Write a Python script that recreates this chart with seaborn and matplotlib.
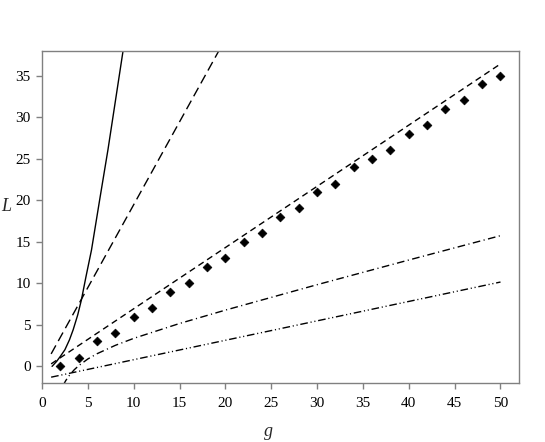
import numpy as np
import pandas as pd
import seaborn as sns
import matplotlib.pyplot as plt

# observed points (diamonds)
g_obs = [2, 4, 6, 8, 10, 12, 14, 16, 18, 20, 22, 24, 26, 28, 30,
         32, 34, 36, 38, 40, 42, 44, 46, 48, 50]
L_obs = [0, 1, 3, 4, 6, 7, 9, 10, 12, 13, 15, 16, 18, 19, 21,
         22, 24, 25, 26, 28, 29, 31, 32, 34, 35]

# solid curve
g_solid = [1.1, 1.6, 2.0, 2.5, 3.0, 3.4, 3.9, 4.3, 4.8, 5.4, 6.3, 7.2, 8.86]
L_solid = [0.0, 0.6, 1.2, 2.0, 3.2, 4.4, 6.2, 8.0, 10.8, 14.0, 20.1, 26.1, 38.1]

# long dashed line
g_long = [1.0, 19.3]
L_long = [1.5, 38.0]

# short dashed line (close to the points)
g_short = [1.0, 50.0]
L_short = [0.3, 36.4]

# dash-dot curve (middle)
g_dd = [2.3, 2.6, 3.0, 3.5, 4.0, 5.0, 6.0, 8.0, 10.0, 15.0, 20.0, 30.0, 40.0, 50.0]
L_dd = [-2.3, -1.7, -1.07, -0.43, 0.08, 0.89, 1.52, 2.53, 3.37, 5.16, 6.77, 9.83, 12.8, 15.73]

# dash-dot-dot line (lowest)
g_ddd = [1.0, 50.0]
L_ddd = [-1.3, 10.15]

sns.set_style("white")
plt.rcParams['font.family'] = ['Liberation Serif', 'DejaVu Serif']
plt.rcParams['lines.scale_dashes'] = False

fig = plt.figure(figsize=(5.45, 4.42), dpi=100)
ax = fig.add_axes([0.077, 0.1335, 0.875, 0.752])

lw = 1.0
sns.lineplot(x=g_solid, y=L_solid, color='black', lw=lw, ax=ax, linestyle='-')
sns.lineplot(x=g_long, y=L_long, color='black', lw=lw, ax=ax, linestyle=(0, (7, 3.6)))
sns.lineplot(x=g_short, y=L_short, color='black', lw=lw, ax=ax, linestyle=(0, (4.5, 3)))
sns.lineplot(x=g_dd, y=L_dd, color='black', lw=lw, ax=ax, linestyle=(0, (5.5, 2.5, 0.8, 2.5)))
sns.lineplot(x=g_ddd, y=L_ddd, color='black', lw=lw, ax=ax,
             linestyle=(0, (5.5, 2, 0.8, 2, 0.8, 2)))
sns.scatterplot(x=g_obs, y=L_obs, marker='D', s=20, color='black',
                edgecolor='black', linewidth=0.5, ax=ax, zorder=5)

ax.set_xlim(0, 52)
ax.set_ylim(-2, 38)
ax.set_xticks(range(0, 51, 5))
ax.set_yticks(range(0, 36, 5))

for sp in ax.spines.values():
    sp.set_color('#808080')
    sp.set_linewidth(1.0)
ax.tick_params(axis='both', which='major', direction='out', length=4, width=1,
               color='#808080', labelsize=11, labelcolor='black')
ax.tick_params(axis='x', pad=6)
ax.tick_params(axis='y', pad=4)
ax.tick_params(bottom=True, left=True, top=False, right=False)

ax.set_xlabel('g', fontstyle='italic', fontsize=13, va='center')
ax.set_ylabel('L', fontstyle='italic', fontsize=13, rotation=0, va='center', ha='center')
ax.xaxis.set_label_coords(0.474, -0.147)
ax.yaxis.set_label_coords(-0.074, 0.53)

fig.savefig('out.png', dpi=100)
